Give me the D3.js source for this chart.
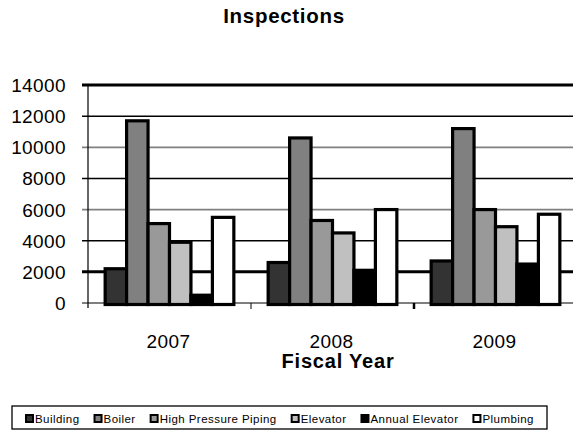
<!DOCTYPE html>
<html>
<head>
<meta charset="utf-8">
<script src="https://cdn.jsdelivr.net/npm/d3@7/dist/d3.min.js"></script>
<style>
  html, body { margin: 0; padding: 0; background: #fff; }
  svg { display: block; }
  svg text { font-family: "Liberation Sans", Arimo, Arial, Helvetica, Roboto, sans-serif; }
</style>
</head>
<body>
<svg id="chart" width="573" height="432"></svg>
<script>
// Fiscal years on the category axis
const years = ["2007", "2008", "2009"];

// Inspection types (one bar per type within each year)
const seriesNames = ["Building", "Boiler", "High Pressure Piping", "Elevator", "Annual Elevator", "Plumbing"];
const seriesColors = ["#333333", "#808080", "#999999", "#c0c0c0", "#000000", "#ffffff"];

// Inspection counts per type, in year order
const building = [2200, 2600, 2700];
const boiler = [11700, 10600, 11200];
const highPressurePiping = [5100, 5300, 6000];
const elevator = [3900, 4500, 4900];
const annualElevator = [500, 2100, 2500];
const plumbing = [5500, 6000, 5700];

const yTicks = [0, 2000, 4000, 6000, 8000, 10000, 12000, 14000];

const seriesValues = [building, boiler, highPressurePiping, elevator, annualElevator, plumbing];

const svg = d3.select("#chart");

const plot = { left: 88, right: 577, top: 85, bottom: 303 };

const x = d3.scaleBand().domain(years).range([plot.left, plot.right]).padding(0);
const xInner = d3.scaleBand().domain(seriesNames).range([0, x.bandwidth()])
  .paddingInner(0).paddingOuter(0.8);
const y = d3.scaleLinear().domain([0, 14000]).range([plot.bottom, plot.top]);

// Title
svg.append("text")
  .attr("x", 284).attr("y", 23)
  .attr("text-anchor", "middle")
  .attr("font-size", 20.5).attr("font-weight", "bold")
  .attr("letter-spacing", 0.7)
  .text("Inspections");

// Horizontal gridlines (extend left of the axis as tick marks)
const gridStyle = v => {
  if (v === 14000 || v === 2000) return { w: 3, c: "#000" };
  if (v === 0) return { w: 1, c: "#000" };
  if ((v / 2000) % 2 === 0) return { w: 1.5, c: "#000" };
  return { w: 1.8, c: "#808080" };
};

svg.append("g").selectAll("line")
  .data(yTicks)
  .join("line")
  .attr("x1", plot.left - 6)
  .attr("x2", 573)
  .attr("y1", d => y(d))
  .attr("y2", d => y(d))
  .attr("stroke", d => gridStyle(d).c)
  .attr("stroke-width", d => gridStyle(d).w);

// Y axis labels
svg.append("g").selectAll("text")
  .data(yTicks)
  .join("text")
  .attr("x", 66)
  .attr("y", d => y(d) + 7)
  .attr("text-anchor", "end")
  .attr("font-size", 19)
  .attr("letter-spacing", 0.4)
  .text(d => d);

// Vertical axis line
svg.append("line")
  .attr("x1", plot.left).attr("x2", plot.left)
  .attr("y1", plot.top).attr("y2", plot.bottom + 5)
  .attr("stroke", "#000").attr("stroke-width", 1.2);

// Category separator ticks
svg.append("g").selectAll("line")
  .data(years.slice(1))
  .join("line")
  .attr("x1", d => x(d)).attr("x2", d => x(d))
  .attr("y1", plot.bottom).attr("y2", plot.bottom + 6)
  .attr("stroke", "#000")
  .attr("stroke-width", (d, i) => i === 1 ? 2.5 : 1);

// Bars
const groups = svg.append("g").selectAll("g")
  .data(years)
  .join("g")
  .attr("transform", d => `translate(${x(d)},0)`);

groups.selectAll("rect")
  .data((yr, yi) => seriesNames.map((name, si) => ({ name, si, value: seriesValues[si][yi] })))
  .join("rect")
  .attr("x", d => xInner(d.name))
  .attr("width", xInner.bandwidth())
  .attr("y", d => y(d.value))
  .attr("height", d => y(0) - y(d.value) + 1.5)
  .attr("fill", d => seriesColors[d.si])
  .attr("stroke", "#000")
  .attr("stroke-width", 3.2);

// Category labels
svg.append("g").selectAll("text")
  .data(years)
  .join("text")
  .attr("x", d => x(d) + x.bandwidth() / 2 - 1)
  .attr("y", 348)
  .attr("text-anchor", "middle")
  .attr("font-size", 19)
  .attr("letter-spacing", 0.4)
  .text(d => d);

// Axis title
svg.append("text")
  .attr("x", 338).attr("y", 368)
  .attr("text-anchor", "middle")
  .attr("font-size", 20).attr("font-weight", "bold")
  .attr("letter-spacing", 0.8)
  .text("Fiscal Year");

// Legend
const legend = svg.append("g");
legend.append("rect")
  .attr("x", 12).attr("y", 406)
  .attr("width", 535).attr("height", 23)
  .attr("fill", "#fff").attr("stroke", "#000").attr("stroke-width", 1.3);

let cursor = 26;
seriesNames.forEach((name, i) => {
  legend.append("rect")
    .attr("x", cursor).attr("y", 415)
    .attr("width", 7).attr("height", 7)
    .attr("fill", seriesColors[i])
    .attr("stroke", "#000").attr("stroke-width", 2);
  const t = legend.append("text")
    .attr("x", cursor + 9).attr("y", 423)
    .attr("font-size", 11.5)
    .attr("letter-spacing", 0.45)
    .text(name);
  cursor += 9 + t.node().getComputedTextLength() + 15;
});
</script>
</body>
</html>
